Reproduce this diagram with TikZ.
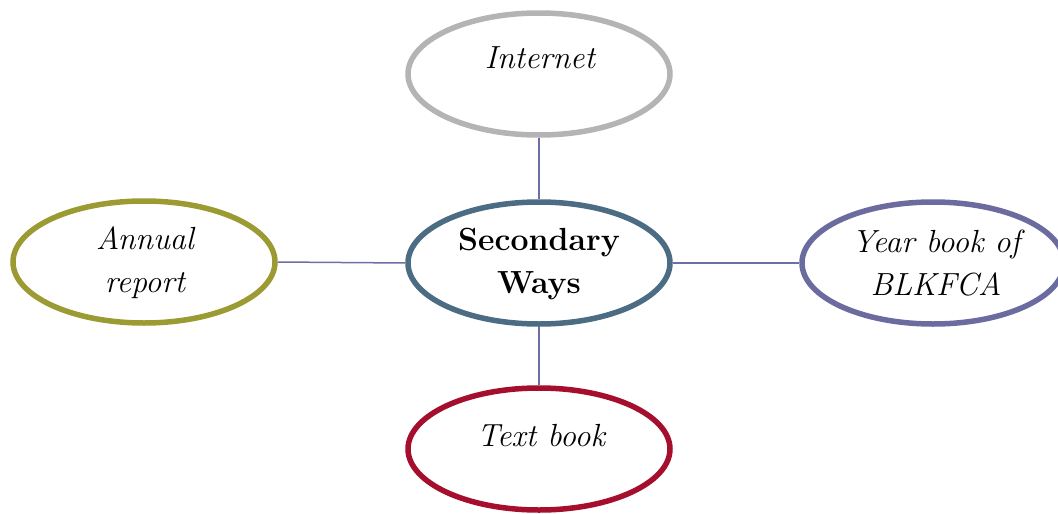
\documentclass[tikz,border=0pt]{standalone}
\usepackage{fontspec}
\setmainfont{Latin Modern Roman}
\usetikzlibrary{shapes.geometric}
\definecolor{cGray}{HTML}{B4B4B4}
\definecolor{cOlive}{HTML}{9C9A32}
\definecolor{cSlate}{HTML}{4B6C82}
\definecolor{cPurple}{HTML}{6C6BA0}
\definecolor{cRed}{HTML}{A50F2D}
\definecolor{cLink}{HTML}{6E6EA6}
\begin{document}
\begin{tikzpicture}[x=1pt,y=-1pt,
  bubble/.style={ellipse, draw, line width=5.5pt, fill=white,
    minimum width=262pt, minimum height=122pt, inner sep=0pt},
  lbl/.style={align=center, font=\fontsize{32}{43}\selectfont\itshape},
  hub/.style={align=center, font=\fontsize{32}{43}\selectfont\bfseries},
  link/.style={draw=cLink, line width=1.5pt}]
  \useasboundingbox (0,0) rectangle (1058,514);
  % ellipses
  \node[bubble, draw=cSlate]  (hubE)   at (539,263) {};
  \node[bubble, draw=cGray]   (inet)   at (539,74)  {};
  \node[bubble, draw=cOlive]  (annual) at (144,262) {};
  \node[bubble, draw=cPurple] (year)   at (933,263) {};
  \node[bubble, draw=cRed]    (text)   at (539,449) {};
  % connectors
  \draw[link] (hubE.north) -- (inet.south);
  \draw[link] (hubE.south) -- (text.north);
  \draw[link] (hubE.west)  -- (annual.east);
  \draw[link] (hubE.east)  -- (year.west);
  % labels
  \node[hub] (hubT)    at (539,264) {Secondary\\Ways};
  \node[lbl] (inetT)   at (540,58)  {Internet};
  \node[lbl] (annualT) at (145,263) {Annual\\report};
  \node[lbl] (yearT)   at (936,263) {Year book of\\BLKFCA};
  \node[lbl] (textT)   at (541,436) {Text book};
\end{tikzpicture}
\end{document}
